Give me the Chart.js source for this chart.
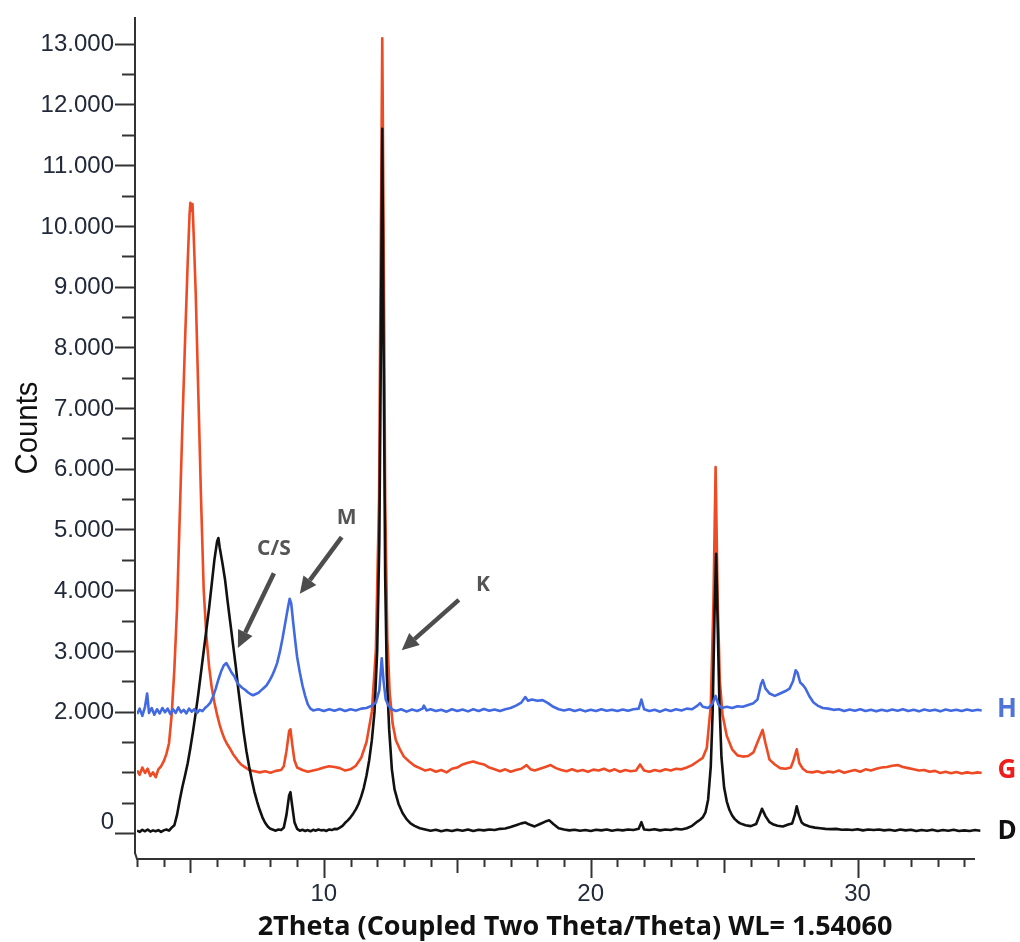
<!DOCTYPE html>
<html><head><meta charset="utf-8">
<script src="https://cdn.jsdelivr.net/npm/chart.js@4.4.1/dist/chart.umd.min.js"></script>
<style>html,body{margin:0;padding:0;background:#fff}#wrap{width:1020px;height:942px;position:relative}</style>
</head><body><div id="wrap"><canvas id="c"></canvas></div>
<script>
// ---- data: [2theta, counts] ----
const seriesD = [[3.0,40],[3.1,20],[3.2,55],[3.3,30],[3.4,60],[3.5,25],[3.6,45],[3.7,30],[3.8,50],[3.9,20],[4.0,45],[4.1,60],[4.2,40],[4.3,90],[4.4,130],[4.5,300],[4.6,540],[4.7,760],[4.8,950],[4.9,1150],[5.0,1400],[5.1,1680],[5.2,1980],[5.3,2300],[5.4,2650],[5.5,3000],[5.6,3350],[5.7,3700],[5.8,4100],[5.9,4500],[6.0,4800],[6.05,4860],[6.1,4700],[6.2,4450],[6.3,4170],[6.4,3800],[6.5,3450],[6.6,3100],[6.7,2750],[6.8,2350],[6.9,2000],[7.0,1650],[7.1,1350],[7.2,1100],[7.3,880],[7.4,680],[7.5,520],[7.6,380],[7.7,260],[7.8,170],[7.9,110],[8.0,70],[8.1,55],[8.2,40],[8.3,60],[8.4,50],[8.5,90],[8.6,300],[8.7,620],[8.75,675],[8.8,500],[8.9,180],[9.0,70],[9.1,40],[9.2,55],[9.3,35],[9.4,50],[9.5,30],[9.6,55],[9.7,40],[9.8,60],[9.9,45],[10.0,50],[10.1,35],[10.2,60],[10.3,50],[10.4,70],[10.5,65],[10.6,90],[10.7,120],[10.8,170],[10.9,210],[11.0,260],[11.1,320],[11.2,390],[11.3,480],[11.4,600],[11.5,750],[11.6,950],[11.7,1200],[11.8,1530],[11.9,2000],[12.0,3000],[12.08,4800],[12.14,8000],[12.19,11600],[12.24,8000],[12.3,4200],[12.36,2600],[12.45,1700],[12.55,1050],[12.65,720],[12.8,480],[12.95,330],[13.1,230],[13.25,160],[13.4,120],[13.6,80],[13.8,60],[14.0,40],[14.2,55],[14.4,30],[14.6,50],[14.8,35],[15.0,55],[15.2,40],[15.4,60],[15.6,35],[15.8,55],[16.0,45],[16.2,60],[16.4,50],[16.6,70],[16.8,75],[17.0,100],[17.2,130],[17.4,160],[17.55,175],[17.7,140],[17.9,110],[18.1,150],[18.3,190],[18.45,210],[18.6,150],[18.8,80],[19.0,60],[19.2,45],[19.4,55],[19.6,40],[19.8,50],[20.0,35],[20.2,55],[20.4,45],[20.6,60],[20.8,40],[21.0,55],[21.2,45],[21.4,60],[21.6,50],[21.8,70],[21.9,180],[22.0,60],[22.2,50],[22.4,65],[22.6,45],[22.8,60],[23.0,50],[23.2,70],[23.4,60],[23.6,80],[23.8,120],[24.0,190],[24.1,220],[24.2,260],[24.3,340],[24.4,550],[24.5,1100],[24.57,2000],[24.64,3600],[24.7,4600],[24.76,3400],[24.82,2200],[24.9,1250],[25.0,750],[25.1,520],[25.2,380],[25.3,290],[25.4,230],[25.5,190],[25.6,160],[25.8,130],[26.0,115],[26.2,150],[26.3,260],[26.42,400],[26.55,280],[26.7,180],[26.85,140],[27.0,120],[27.2,110],[27.4,140],[27.55,160],[27.65,300],[27.72,440],[27.8,300],[27.9,180],[28.0,140],[28.2,110],[28.4,90],[28.6,80],[28.8,70],[29.0,65],[29.2,70],[29.4,55],[29.6,60],[29.8,50],[30.0,65],[30.2,45],[30.4,60],[30.6,50],[30.8,60],[31.0,45],[31.2,55],[31.4,40],[31.6,60],[31.8,45],[32.0,55],[32.2,35],[32.4,50],[32.6,40],[32.8,55],[33.0,35],[33.2,50],[33.4,40],[33.6,55],[33.8,35],[34.0,45],[34.2,35],[34.4,50],[34.6,40]];

const seriesG = [[3.0,1030],[3.1,960],[3.2,1080],[3.3,990],[3.4,1060],[3.5,940],[3.6,1000],[3.7,920],[3.8,1050],[3.9,1100],[4.0,1180],[4.1,1300],[4.2,1480],[4.3,1950],[4.4,2700],[4.5,3700],[4.6,5200],[4.7,6700],[4.8,8100],[4.9,9400],[4.97,10200],[5.0,10380],[5.04,10250],[5.08,10360],[5.12,9900],[5.2,8900],[5.3,7200],[5.4,5500],[5.5,4000],[5.6,3250],[5.7,2750],[5.8,2400],[5.9,2150],[6.0,1950],[6.1,1780],[6.2,1640],[6.3,1530],[6.4,1450],[6.5,1380],[6.6,1300],[6.7,1240],[6.8,1180],[6.9,1130],[7.0,1100],[7.1,1070],[7.2,1040],[7.4,1020],[7.6,1000],[7.8,1020],[8.0,995],[8.2,1025],[8.4,1040],[8.5,1100],[8.6,1350],[8.7,1680],[8.75,1710],[8.82,1450],[8.9,1200],[9.0,1080],[9.2,1040],[9.4,1010],[9.6,1030],[9.8,1050],[10.0,1080],[10.2,1100],[10.4,1090],[10.6,1070],[10.8,1030],[11.0,1050],[11.2,1110],[11.4,1240],[11.6,1500],[11.8,2000],[11.95,3000],[12.07,5500],[12.14,10000],[12.19,13090],[12.24,10000],[12.3,5500],[12.38,3200],[12.47,2300],[12.58,1800],[12.7,1530],[12.85,1380],[13.0,1260],[13.2,1180],[13.4,1110],[13.6,1070],[13.8,1030],[14.0,1050],[14.2,1010],[14.4,1040],[14.6,1000],[14.8,1060],[15.0,1080],[15.2,1130],[15.4,1160],[15.6,1180],[15.8,1150],[16.0,1130],[16.2,1080],[16.4,1050],[16.6,1020],[16.8,1050],[17.0,1010],[17.2,1040],[17.4,1060],[17.6,1120],[17.75,1050],[17.9,1030],[18.1,1060],[18.3,1090],[18.5,1120],[18.7,1070],[18.9,1040],[19.1,1020],[19.3,1050],[19.5,1020],[19.7,1040],[19.9,1010],[20.1,1045],[20.3,1030],[20.5,1060],[20.7,1020],[20.9,1050],[21.1,1010],[21.3,1040],[21.5,1020],[21.7,1030],[21.85,1130],[22.0,1030],[22.2,1010],[22.4,1040],[22.6,1020],[22.8,1050],[23.0,1030],[23.2,1060],[23.4,1050],[23.6,1080],[23.8,1120],[24.0,1180],[24.2,1240],[24.35,1400],[24.5,2100],[24.6,3800],[24.68,6030],[24.76,3800],[24.84,2500],[24.94,1950],[25.1,1600],[25.3,1380],[25.5,1280],[25.7,1260],[25.9,1270],[26.1,1330],[26.3,1550],[26.44,1700],[26.55,1480],[26.7,1210],[26.9,1130],[27.1,1070],[27.3,1060],[27.5,1080],[27.6,1200],[27.72,1380],[27.82,1150],[27.95,1060],[28.1,1010],[28.3,1000],[28.5,1020],[28.7,990],[28.9,1015],[29.1,1000],[29.3,1030],[29.5,995],[29.7,1020],[29.9,1040],[30.1,1010],[30.3,1050],[30.5,1030],[30.7,1060],[30.9,1080],[31.1,1090],[31.3,1110],[31.5,1120],[31.7,1090],[31.9,1070],[32.1,1050],[32.3,1030],[32.5,1040],[32.7,1010],[32.9,1025],[33.1,990],[33.3,1010],[33.5,985],[33.7,1005],[33.9,980],[34.1,1000],[34.3,985],[34.5,1000],[34.65,990]];

const seriesH = [[3.0,1960],[3.1,2050],[3.2,1930],[3.3,2080],[3.38,2300],[3.45,1980],[3.55,2060],[3.65,1950],[3.75,2040],[3.85,1970],[3.95,2060],[4.05,1990],[4.15,2050],[4.25,1960],[4.35,2040],[4.45,1980],[4.55,2070],[4.65,1990],[4.75,2030],[4.85,1970],[4.95,2050],[5.05,2000],[5.15,2040],[5.25,1980],[5.35,2030],[5.45,2010],[5.55,2060],[5.65,2100],[5.75,2150],[5.85,2250],[5.95,2380],[6.05,2530],[6.15,2660],[6.25,2760],[6.35,2800],[6.45,2720],[6.55,2640],[6.65,2580],[6.75,2480],[6.85,2430],[6.95,2390],[7.05,2360],[7.15,2320],[7.25,2290],[7.35,2270],[7.45,2290],[7.55,2310],[7.65,2350],[7.75,2390],[7.85,2430],[7.95,2500],[8.05,2580],[8.15,2680],[8.25,2800],[8.35,2980],[8.45,3200],[8.55,3450],[8.65,3700],[8.72,3860],[8.78,3780],[8.85,3480],[8.92,3200],[9.0,2900],[9.1,2650],[9.2,2430],[9.3,2260],[9.4,2120],[9.5,2050],[9.6,2020],[9.8,2040],[10.0,2010],[10.2,2040],[10.4,2015],[10.6,2045],[10.8,2010],[11.0,2040],[11.2,2020],[11.4,2050],[11.6,2060],[11.8,2100],[11.95,2150],[12.08,2350],[12.17,2880],[12.24,2500],[12.32,2200],[12.42,2100],[12.55,2040],[12.7,2010],[12.9,2040],[13.1,2000],[13.3,2035],[13.5,2010],[13.7,2050],[13.75,2100],[13.85,2020],[14.0,2040],[14.2,2010],[14.4,2030],[14.6,2000],[14.8,2040],[15.0,2010],[15.2,2035],[15.4,2005],[15.6,2040],[15.8,2010],[16.0,2045],[16.2,2015],[16.4,2035],[16.6,2010],[16.8,2040],[17.0,2060],[17.2,2100],[17.4,2150],[17.55,2240],[17.65,2180],[17.8,2200],[18.0,2180],[18.2,2190],[18.4,2140],[18.6,2080],[18.8,2040],[19.0,2020],[19.2,2040],[19.4,2010],[19.6,2035],[19.8,2005],[20.0,2030],[20.2,2010],[20.4,2040],[20.6,2015],[20.8,2030],[21.0,2010],[21.2,2035],[21.4,2015],[21.6,2040],[21.8,2050],[21.9,2200],[22.0,2040],[22.2,2010],[22.4,2030],[22.6,2000],[22.8,2035],[23.0,2010],[23.2,2040],[23.4,2020],[23.6,2050],[23.8,2040],[24.0,2100],[24.1,2140],[24.2,2080],[24.4,2060],[24.55,2120],[24.68,2260],[24.78,2120],[24.9,2060],[25.1,2080],[25.3,2060],[25.5,2090],[25.7,2080],[25.9,2110],[26.1,2140],[26.25,2200],[26.38,2450],[26.45,2520],[26.55,2380],[26.7,2300],[26.9,2260],[27.1,2300],[27.3,2340],[27.45,2380],[27.58,2500],[27.68,2680],[27.75,2640],[27.85,2480],[27.95,2440],[28.05,2380],[28.2,2250],[28.35,2150],[28.5,2100],[28.7,2060],[28.9,2050],[29.1,2030],[29.3,2040],[29.5,2010],[29.7,2035],[29.9,2015],[30.1,2040],[30.3,2010],[30.5,2030],[30.7,2005],[30.9,2030],[31.1,2010],[31.3,2035],[31.5,2015],[31.7,2040],[31.9,2010],[32.1,2030],[32.3,2005],[32.5,2035],[32.7,2015],[32.9,2030],[33.1,2005],[33.3,2035],[33.5,2015],[33.7,2030],[33.9,2010],[34.1,2035],[34.3,2015],[34.5,2030],[34.65,2020]];

const yTickValues = [0,2000,3000,4000,5000,6000,7000,8000,9000,10000,11000,12000,13000];
const yTickLabels = ["0","2.000","3.000","4.000","5.000","6.000","7.000","8.000","9.000","10.000","11.000","12.000","13.000"];
const xTickValues = [10,20,30];
const xTickLabels = ["10","20","30"];
const seriesNames = ["H","G","D"];
const seriesLevels = [2000,1000,0];
const seriesColors = ["#4169e1","#ee4a24","#111111"];
const labelColors = ["#4f74d9","#ee1c1c","#111111"];
const annTexts = ["C/S","M","K"];
const annTextPos = [[8.13,4680],[10.86,5190],[15.96,4085]];
const annArrowFrom = [[8.13,4280],[10.67,4875],[15.06,3840]];
const annArrowTo = [[6.78,3050],[9.10,3940],[12.92,3010]];
const xTitle = "2Theta (Coupled Two Theta/Theta) WL= 1.54060";
const yTitle = "Counts";

const toPts = a => a.map(p => ({x:p[0], y:p[1]}));

function fitFont(ctx, text, weight, family, size, target){
  ctx.font = weight + " " + size + "px " + family;
  const w = ctx.measureText(text).width;
  return size * target / w;
}

const axisPlugin = {
  id: 'axisPlugin',
  afterDraw(chart){
    const ctx = chart.ctx, xs = chart.scales.x, ys = chart.scales.y, ca = chart.chartArea;
    ctx.save();
    ctx.strokeStyle = "#333";
    ctx.fillStyle = "#222a3a";
    ctx.lineWidth = 2;
    const axX = ca.left - 2;
    // y axis line
    ctx.beginPath(); ctx.moveTo(axX, ca.top); ctx.lineTo(axX, ca.bottom - 4); ctx.stroke();
    // y ticks every 500
    for (let v = 0; v <= 13000; v += 500){
      const py = Math.round(ys.getPixelForValue(v)) + 0.5;
      const major = yTickValues.includes(v);
      ctx.beginPath(); ctx.moveTo(axX - (major ? 20 : 13), py); ctx.lineTo(axX, py); ctx.stroke();
    }
    ctx.font = "24px 'Liberation Sans', Arial, sans-serif";
    ctx.textAlign = "right"; ctx.textBaseline = "middle";
    yTickValues.forEach((v,i) => {
      let py = ys.getPixelForValue(v);
      if (v === 0) py -= 12;
      ctx.fillText(yTickLabels[i], axX - 21, py + 1);
    });
    // x axis line
    const axY = ca.bottom + 1;
    ctx.beginPath(); ctx.moveTo(axX, ca.bottom - 5); ctx.lineTo(axX + 2, axY); ctx.lineTo(xs.getPixelForValue(34.4), axY); ctx.stroke();
    for (let t = 3; t <= 34; t++){
      const px = Math.round(xs.getPixelForValue(t)) + 0.5;
      let len = 8;
      if (t % 10 === 0) len = 19; else if (t % 5 === 0) len = 14;
      ctx.beginPath(); ctx.moveTo(px, axY); ctx.lineTo(px, axY + len); ctx.stroke();
    }
    ctx.textAlign = "center"; ctx.textBaseline = "middle";
    xTickValues.forEach((v,i) => {
      ctx.fillText(xTickLabels[i], xs.getPixelForValue(v), 894);
    });
    // x title
    ctx.fillStyle = "#111";
    const fs = fitFont(ctx, xTitle, "bold", "'Open Sans', sans-serif", 20, 635);
    ctx.font = "bold " + fs + "px 'Open Sans', sans-serif";
    ctx.textAlign = "center"; ctx.textBaseline = "alphabetic";
    ctx.fillText(xTitle, 575, 935);
    // y title
    ctx.save();
    ctx.translate(37, 428);
    ctx.rotate(-Math.PI/2);
    ctx.font = "32px 'Liberation Sans', Arial, sans-serif";
    const w = ctx.measureText(yTitle).width;
    ctx.scale(93 / w, 1);
    ctx.textAlign = "center"; ctx.textBaseline = "alphabetic";
    ctx.fillStyle = "#111";
    ctx.fillText(yTitle, 0, 0);
    ctx.restore();
    // series labels
    ctx.font = "bold 26px 'Open Sans', sans-serif";
    ctx.textAlign = "center"; ctx.textBaseline = "middle";
    seriesNames.forEach((n,i) => {
      ctx.fillStyle = labelColors[i];
      ctx.fillText(n, 1007, ys.getPixelForValue(seriesLevels[i]) - 2);
    });
    // annotations
    ctx.strokeStyle = "#4d4d4d";
    ctx.font = "bold 21px 'Open Sans', sans-serif";
    annTexts.forEach((t,i) => {
      ctx.fillStyle = "#555";
      ctx.fillText(t, xs.getPixelForValue(annTextPos[i][0]), ys.getPixelForValue(annTextPos[i][1]));
      const x1 = xs.getPixelForValue(annArrowFrom[i][0]), y1 = ys.getPixelForValue(annArrowFrom[i][1]);
      const x2 = xs.getPixelForValue(annArrowTo[i][0]), y2 = ys.getPixelForValue(annArrowTo[i][1]);
      const ang = Math.atan2(y2 - y1, x2 - x1);
      const hl = 17, hw = 8;
      const bx = x2 - hl * Math.cos(ang), by = y2 - hl * Math.sin(ang);
      ctx.lineWidth = 4.5; ctx.lineCap = "butt";
      ctx.beginPath(); ctx.moveTo(x1, y1); ctx.lineTo(bx, by); ctx.stroke();
      ctx.fillStyle = "#4d4d4d";
      ctx.beginPath();
      ctx.moveTo(x2, y2);
      ctx.lineTo(bx + hw * Math.sin(ang), by - hw * Math.cos(ang));
      ctx.lineTo(bx - hw * Math.sin(ang), by + hw * Math.cos(ang));
      ctx.closePath(); ctx.fill();
    });
    ctx.restore();
  }
};

const mk = (label, pts, color) => ({
  label, data: toPts(pts), borderColor: color, backgroundColor: color,
  borderWidth: 2.6, pointRadius: 0, tension: 0, fill: false, borderJoinStyle: 'round'
});

new Chart(document.getElementById('c'), {
  type: 'line',
  data: { datasets: [ mk("H", seriesH, seriesColors[0]), mk("D", seriesD, seriesColors[2]), mk("G", seriesG, seriesColors[1]) ] },
  options: {
    responsive: true, maintainAspectRatio: false, animation: false,
    layout: { padding: { left: 137, right: 37, top: 17, bottom: 84 } },
    plugins: { legend: { display: false }, tooltip: { enabled: false } },
    scales: {
      x: { type: 'linear', min: 3, max: 34.7, display: false },
      y: { type: 'linear', min: -410, max: 13440, display: false }
    }
  },
  plugins: [axisPlugin]
});
</script>
</body></html>
